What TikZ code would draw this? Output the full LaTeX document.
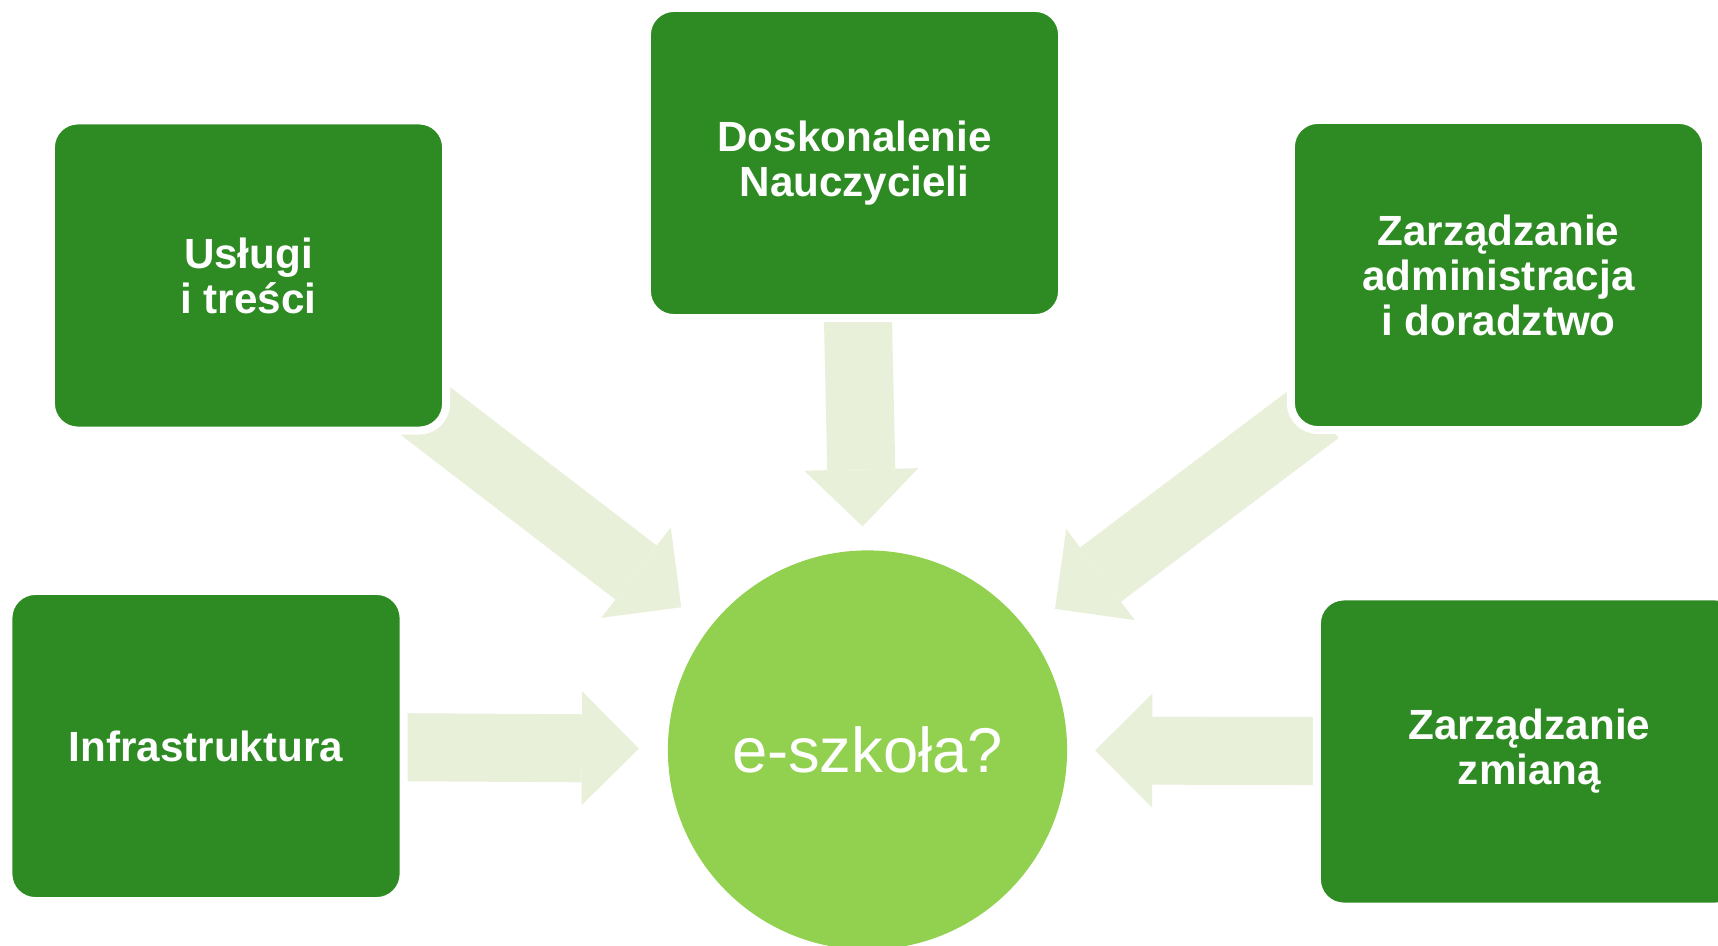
\documentclass[tikz,border=0pt]{standalone}
\usepackage{fontspec}
\setmainfont{Liberation Sans}
\usetikzlibrary{arrows.meta, backgrounds}
\definecolor{Ciemna}{HTML}{2E8B23}
\definecolor{Jasna}{HTML}{92D050}
\definecolor{Blada}{HTML}{E9F0DA}
\tikzset{
  kafel/.style    = {rectangle, rounded corners=0.27cm, fill=Ciemna, draw=white,
                     line width=0.08cm, text=white, align=center,
                     font=\fontsize{12}{12.8}\selectfont\bfseries,
                     minimum width=4.15cm, minimum height=3.10cm,
                     inner sep=0pt, outer sep=0pt},
  kafelwaski/.style = {kafel, minimum width=3.95cm},
  kafelszeroki/.style = {kafel, minimum width=4.25cm},
  kolo/.style     = {circle, fill=Jasna, text=white,
                     font=\fontsize{18}{20}\selectfont,
                     minimum size=3.99cm, inner sep=0pt, outer sep=0pt},
  strzalka/.style = {-{Triangle[length=0.57cm, width=1.14cm, line width=0pt]},
                     line width=0.68cm, draw=Blada},
}

\begin{document}
\begin{tikzpicture}[x=0.01cm, y=-0.01cm]
  \useasboundingbox (0,0) rectangle (1718,945);

  \node[kolo]         (szkola)  at (867.5,750)   {e-szkoła?};
  \node[kafelwaski]   (uslugi)  at (248.5,275.5) {Usługi\\i treści};
  \node[kafel]        (doskon)  at (854.5,163)   {Doskonalenie\\Nauczycieli};
  \node[kafel]        (zarzad)  at (1498.5,275)  {Zarządzanie\\administracja\\i doradztwo};
  \node[kafelwaski]   (infra)   at (206,746)     {Infrastruktura};
  \node[kafelszeroki] (zmiana)  at (1529.5,751.5) {Zarządzanie\\zmianą};

  \begin{scope}[on background layer]
    \draw[strzalka, shorten >=0.24cm]                     (doskon) -- (szkola);
    \draw[strzalka, shorten >=0.29cm]                     (infra)  -- (szkola);
    \draw[strzalka, shorten >=0.28cm]                     (zmiana) -- (szkola);
    \draw[strzalka, shorten <=-0.31cm, shorten >=0.35cm] (uslugi) -- (szkola);
    \draw[strzalka, shorten <=-0.32cm, shorten >=0.35cm] (zarzad) -- (szkola);
  \end{scope}
\end{tikzpicture}
\end{document}
